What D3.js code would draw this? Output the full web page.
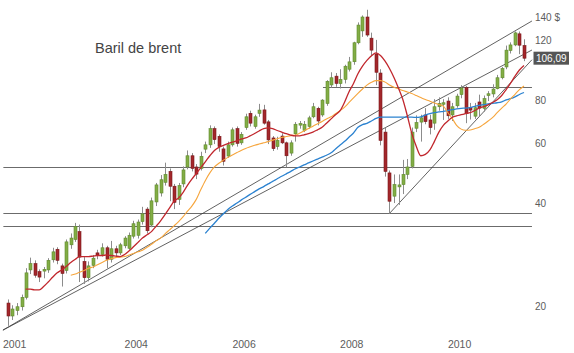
<!DOCTYPE html>
<html>
<head>
<meta charset="utf-8">
<script src="https://cdnjs.cloudflare.com/ajax/libs/d3/7.8.5/d3.min.js"></script>
<style>
  body { margin: 0; background: #fff; }
  svg { display: block; font-family: Arial, "Liberation Sans", sans-serif; }
</style>
</head>
<body>
<div id="chart-area"></div>
<script>
// Monthly candles, the first one is November 2001, the last June 2011
var firstMonth = "2001-11";

var opens = [20.4, 18.7, 19.4, 19.9, 21.2, 25.5, 26.6, 25.2, 25.3, 25.5, 27.3, 29.3, 26.2, 25.4,
  30.2, 31.3, 33.0, 27.0, 24.2, 26.3, 28.6, 28.3, 29.6, 27.4, 29.4, 28.6,
  30.0, 29.5, 32.0, 32.2, 35.3, 38.4, 34.5, 40.3, 42.8, 46.0, 49.5, 44.8,
  41.0, 45.5, 51.0, 55.0, 51.0, 50.5, 57.5, 59.2, 66.0, 62.7, 57.6, 54.9,
  59.2, 66.0, 60.0, 66.5, 73.2, 67.0, 73.2, 74.9, 69.1, 62.0, 58.5, 62.8,
  60.0, 56.0, 63.8, 67.6, 65.2, 67.0, 71.5, 75.7, 72.4, 78.2, 88.6, 94.0,
  89.4, 92.0, 98.5, 103.6, 117.7, 127.5, 140.0, 121.4, 109.1, 96.0, 64.5, 49.0,
  41.9, 44.6, 45.3, 48.5, 51.2, 66.2, 69.0, 72.4, 70.0, 68.5, 76.5, 77.8,
  79.5, 72.4, 77.0, 83.0, 87.0, 76.2, 71.8, 79.0, 75.7, 82.5, 83.4, 86.4,
  93.0, 100.0, 111.7, 116.0, 125.0, 115.5];

var highs = [20.9, 20.1, 20.4, 21.6, 25.8, 27.7, 27.2, 25.6, 26.0, 27.6, 29.6, 29.7, 26.6, 31.3,
  32.6, 35.0, 34.6, 27.8, 27.0, 28.2, 29.2, 30.5, 30.0, 31.0, 30.0, 30.6,
  32.0, 32.8, 35.5, 35.8, 39.0, 38.9, 41.5, 45.8, 48.3, 52.5, 50.5, 45.5,
  45.8, 51.2, 57.0, 56.0, 52.0, 56.5, 60.5, 67.5, 67.0, 63.5, 58.5, 60.5,
  66.5, 67.0, 64.5, 73.0, 74.5, 72.5, 78.0, 77.5, 70.0, 62.8, 62.5, 64.0,
  60.5, 61.0, 69.0, 69.5, 69.5, 72.0, 78.5, 76.5, 80.5, 91.5, 96.5, 96.0,
  98.5, 101.5, 107.0, 118.5, 135.0, 141.5, 147.0, 126.0, 120.0, 98.5, 66.5, 49.8,
  48.5, 48.5, 53.5, 53.8, 66.5, 72.2, 72.5, 75.8, 72.5, 80.5, 81.5, 80.5,
  81.5, 78.5, 83.5, 88.5, 88.0, 78.5, 78.5, 83.0, 82.5, 85.0, 89.0, 94.8,
  100.0, 115.5, 118.0, 127.0, 127.0, 120.5];

var lows = [17.5, 18.2, 18.8, 19.4, 20.9, 24.8, 24.2, 23.5, 24.1, 25.0, 26.8, 26.5, 22.8, 24.9,
  29.4, 30.8, 23.5, 23.2, 23.6, 25.8, 27.4, 27.9, 25.8, 26.8, 27.8, 28.2,
  29.5, 29.2, 31.5, 31.5, 34.6, 32.6, 34.0, 39.2, 41.8, 45.0, 40.5, 38.4,
  39.5, 44.5, 50.2, 49.5, 47.0, 49.8, 56.0, 58.0, 59.5, 56.5, 51.5, 54.2,
  58.5, 58.5, 59.2, 65.5, 67.0, 66.0, 71.5, 67.8, 59.5, 56.8, 57.3, 59.5,
  50.9, 55.0, 60.5, 66.0, 64.5, 66.0, 70.8, 67.5, 71.5, 77.0, 87.0, 87.5,
  86.5, 89.5, 97.0, 101.5, 116.5, 122.5, 122.5, 107.5, 88.5, 59.0, 47.8, 37.2,
  40.0, 39.5, 42.5, 47.0, 50.5, 64.5, 60.5, 68.0, 63.5, 65.5, 74.5, 70.0,
  70.5, 69.5, 76.0, 81.0, 68.5, 70.2, 70.5, 71.5, 74.0, 79.5, 81.5, 86.0,
  92.0, 98.5, 109.5, 115.0, 109.0, 104.0];

var closes = [18.7, 19.6, 19.9, 21.2, 25.0, 26.6, 24.6, 24.3, 25.6, 27.2, 28.8, 27.2, 24.9, 30.8,
  31.6, 34.2, 27.8, 24.2, 26.2, 27.6, 28.2, 29.6, 27.4, 29.4, 28.6, 30.2,
  31.6, 32.2, 34.8, 35.2, 37.2, 33.2, 40.6, 45.2, 46.8, 48.5, 44.8, 40.2,
  45.0, 50.0, 55.0, 50.5, 48.6, 54.8, 59.2, 66.0, 61.3, 58.5, 53.0, 59.2,
  65.5, 59.8, 63.5, 71.5, 68.5, 71.5, 74.8, 68.5, 61.2, 57.7, 61.0, 60.0,
  55.0, 60.0, 68.0, 68.3, 68.0, 71.0, 76.5, 69.5, 80.0, 90.8, 93.0, 89.5,
  92.0, 100.5, 103.5, 117.7, 132.6, 140.0, 124.0, 112.0, 96.5, 61.0, 49.5, 40.5,
  45.3, 45.2, 48.5, 51.0, 64.5, 68.8, 71.0, 69.2, 66.5, 76.5, 78.2, 78.6,
  72.0, 76.5, 82.2, 86.8, 73.0, 74.8, 76.0, 75.8, 80.8, 83.5, 86.2, 93.0,
  99.0, 112.0, 116.0, 125.8, 115.8, 106.09];

// Moving averages, read month by month (each one starts later)
var redStart = "2002-03";
var redMA = [22.4, 22.4, 22.3, 22.3, 22.8, 23.5, 24.3, 25.0, 25.5, 26.1,
  26.8, 27.4, 27.9, 27.9, 27.9, 28.0, 28.1, 28.1, 28.2, 28.1, 28.0, 27.9,
  28.3, 29.0, 29.8, 30.7, 31.6, 32.3, 33.0, 34.2, 35.5, 37.0, 38.7, 40.5,
  41.4, 43.0, 45.0, 47.0, 48.8, 50.8, 52.8, 55.0, 57.0, 58.2, 59.0, 59.7,
  60.3, 60.8, 61.5, 62.0, 62.9, 63.9, 65.0, 66.0, 66.4, 66.0, 65.2, 64.5,
  63.8, 63.2, 62.9, 62.9, 63.3, 63.8, 64.5, 65.5, 66.6, 68.5, 70.5, 72.5,
  74.5, 79.0, 84.5, 89.5, 95.5, 100.5, 104.5, 107.8, 110.0, 108.0, 104.0, 99.0,
  93.0, 86.5, 80.5, 72.0, 64.0, 58.5, 55.0, 55.5, 57.2, 60.5, 64.5, 67.5,
  69.5, 71.3, 72.0, 72.5, 73.0, 73.5, 74.5, 75.8, 76.6, 77.5, 78.8, 80.2,
  82.5, 86.0, 89.5, 94.0, 98.0, 101.0];

var orangeStart = "2003-01";
var orangeMA = [24.6, 24.8, 25.1, 25.4, 25.8, 26.0, 26.4, 26.8, 27.2, 27.5, 27.7, 27.8,
  27.9, 28.2, 28.5, 28.8, 29.1, 29.7, 30.3, 31.0, 31.6, 32.5, 33.4, 34.3,
  35.3, 36.5, 37.8, 39.2, 41.0, 43.8, 46.5, 49.0, 51.0, 52.3, 53.4, 54.4,
  55.3, 56.2, 57.0, 57.8, 58.4, 59.0, 59.5, 60.0, 60.5, 61.1, 61.7, 62.2,
  62.6, 63.0, 63.2, 64.0, 65.0, 66.1, 67.1, 68.2, 69.3, 70.5, 71.5, 73.0,
  74.5, 76.3, 78.6, 81.2, 83.7, 86.2, 88.5, 90.2, 91.2, 91.2, 90.3, 88.6,
  87.2, 86.3, 85.3, 84.5, 83.6, 82.5, 81.4, 80.3, 79.4, 78.5, 77.7, 76.8,
  73.5, 70.5, 67.5, 65.8, 65.3, 65.4, 66.0, 66.6, 68.0, 69.5, 71.2, 73.5,
  75.8, 78.0, 80.6, 83.2, 85.8, 88.0];

var blueStart = "2005-07";
var blueMA = [32.6, 33.8, 34.9, 36.1, 37.2, 38.3, 39.2, 40.0, 40.8, 41.6, 42.4, 43.2,
  44.0, 44.7, 45.5, 46.3, 47.1, 47.9, 48.7, 49.5, 50.3, 51.0, 51.7, 52.4,
  53.1, 53.8, 54.5, 55.2, 56.1, 57.6, 59.1, 60.6, 62.3, 64.1, 66.6, 67.8,
  68.4, 69.5, 70.7, 71.3, 71.3, 71.3, 71.3, 71.3, 71.3, 71.3, 71.3, 71.2,
  71.5, 72.3, 73.0, 73.5, 73.9, 74.2, 74.6, 75.0, 75.4, 75.7, 75.8, 76.1,
  76.7, 77.2, 77.6, 78.0, 78.3, 78.6, 79.1, 80.1, 80.8, 81.8, 83.1, 84.2];

// Horizontal support / resistance levels and where they begin
var levels = [87.2, 50.9, 37.3, 34.3];
var levelStarts = ["2007-09-07", "2001-10-01", "2001-10-01", "2001-10-01"];
var linesEnd = "2011-07-25";

// Trend lines: [start date, start price, end date, end price]
var trendA = ["2001-09-28", 17.0, "2011-07-25", 136.3];
var trendB = ["2001-09-28", 17.0, "2011-07-25", 112.1];
var trendC = ["2008-12-01", 37.3, "2011-07-25", 105.0];

// Axis labels
var yearLabels = ["2001", "2004", "2006", "2008", "2010"];
var priceTicks = [20, 40, 60, 80, 120, 140];
var title = "Baril de brent";


CandleChart = function (_parentElement) {
  this.parentElement = _parentElement;
  this.initVis();
};

CandleChart.prototype.initVis = function () {
  var vis = this;

  vis.width = 574;
  vis.height = 353;

  vis.svg = d3.select(vis.parentElement)
    .append("svg")
    .attr("width", vis.width)
    .attr("height", vis.height);

  vis.parseMonth = d3.timeParse("%Y-%m");
  vis.parseDay = d3.timeParse("%Y-%m-%d");

  /* Scales */
  vis.x = d3.scaleTime()
    .domain([new Date(2001, 0, 1), new Date(2011, 5, 1)])
    .range([-36.9, 524]);

  vis.y = d3.scaleLog()
    .domain([20, 140])
    .range([306, 17]);

  vis.wrangleData();
};

CandleChart.prototype.wrangleData = function () {
  var vis = this;
  var start = vis.parseMonth(firstMonth);

  vis.candles = opens.map(function (o, i) {
    return {
      date: d3.timeMonth.offset(start, i),
      open: o, high: highs[i], low: lows[i], close: closes[i]
    };
  });

  function series(startText, values) {
    var s = vis.parseMonth(startText);
    return values.map((v, i) => ({ date: d3.timeMonth.offset(s, i), value: v }));
  }
  vis.averages = [
    { values: series(blueStart, blueMA), color: "#2b82d0", width: 1.3 },
    { values: series(orangeStart, orangeMA), color: "#f6a53c", width: 1.1 },
    { values: series(redStart, redMA), color: "#c1272d", width: 1.3 }
  ];

  vis.updateVis();
};

CandleChart.prototype.updateVis = function () {
  var vis = this;
  var x = vis.x, y = vis.y;

  /* Horizontal levels */
  vis.svg.append("g")
    .selectAll("line")
    .data(levels).enter()
    .append("line")
    .attr("x1", (d, i) => x(vis.parseDay(levelStarts[i])))
    .attr("x2", x(vis.parseDay(linesEnd)))
    .attr("y1", d => Math.round(y(d)) + 0.5)
    .attr("y2", d => Math.round(y(d)) + 0.5)
    .attr("stroke", "#6b6b6b")
    .attr("stroke-width", 1);

  /* Trend lines */
  vis.svg.append("g")
    .selectAll("line")
    .data([trendA, trendB, trendC]).enter()
    .append("line")
    .attr("x1", d => x(vis.parseDay(d[0])))
    .attr("y1", d => y(d[1]))
    .attr("x2", d => x(vis.parseDay(d[2])))
    .attr("y2", d => y(d[3]))
    .attr("stroke", "#3a3a3a")
    .attr("stroke-width", 0.8);

  /* Candles */
  var candle = vis.svg.append("g")
    .selectAll("g")
    .data(vis.candles).enter()
    .append("g");

  candle.append("line")
    .attr("x1", d => Math.round(x(d.date)) + 0.5)
    .attr("x2", d => Math.round(x(d.date)) + 0.5)
    .attr("y1", d => y(d.high))
    .attr("y2", d => y(d.low))
    .attr("stroke", "#8c8c8c")
    .attr("stroke-width", 1);

  candle.append("rect")
    .attr("x", d => Math.round(x(d.date)) - 1)
    .attr("width", 3)
    .attr("y", d => y(Math.max(d.open, d.close)))
    .attr("height", d => Math.max(1, Math.abs(y(d.open) - y(d.close))))
    .attr("fill", d => d.close >= d.open ? "#82ad45" : "#a3272b")
    .attr("stroke", d => d.close >= d.open ? "#5f8a2c" : "#7a1719")
    .attr("stroke-width", 0.6);

  /* Moving averages */
  vis.line = d3.line()
    .x(d => x(d.date))
    .y(d => y(d.value))
    .curve(d3.curveMonotoneX);

  vis.svg.append("g")
    .selectAll("path")
    .data(vis.averages).enter()
    .append("path")
    .attr("d", d => vis.line(d.values))
    .attr("fill", "none")
    .attr("stroke", d => d.color)
    .attr("stroke-width", d => d.width);

  /* Price axis on the right */
  vis.yAxis = d3.axisRight(y)
    .tickValues(priceTicks)
    .tickSize(0)
    .tickPadding(0)
    .tickFormat(d => d === 140 ? "140 $" : d);

  vis.yAxisGroup = vis.svg.append("g")
    .attr("transform", "translate(535,0)")
    .call(vis.yAxis);
  vis.yAxisGroup.select(".domain").remove();
  vis.yAxisGroup.selectAll("text")
    .attr("fill", "#5c5c5c")
    .attr("font-size", "10px")
    .attr("font-family", "Arial, 'Liberation Sans', sans-serif");

  /* Last price box */
  var last = closes[closes.length - 1];
  var fr = d3.formatLocale({ decimal: ",", thousands: " ", grouping: [3], currency: ["", " $"] });
  vis.svg.append("rect")
    .attr("x", 533.5)
    .attr("y", y(last) - 6.5)
    .attr("width", 35.5)
    .attr("height", 13)
    .attr("fill", "#555555");
  vis.svg.append("text")
    .attr("x", 536)
    .attr("y", y(last) + 3.6)
    .attr("font-size", "10px")
    .attr("fill", "#ffffff")
    .text(fr.format(".2f")(last));

  /* Year axis */
  vis.xAxis = d3.axisBottom(x)
    .tickValues(yearLabels.map(d => new Date(+d, 0, 1)))
    .tickSize(0)
    .tickPadding(0)
    .tickFormat(d3.timeFormat("%Y"));

  vis.xAxisGroup = vis.svg.append("g")
    .attr("transform", "translate(0,340)")
    .call(vis.xAxis);
  vis.xAxisGroup.select(".domain").remove();
  vis.xAxisGroup.selectAll(".tick")
    .attr("transform", d => "translate(" + Math.max(3, x(d)) + ",0)");
  vis.xAxisGroup.selectAll("text")
    .attr("text-anchor", "start")
    .attr("dy", "0.75em")
    .attr("fill", "#5c5c5c")
    .attr("font-size", "10.5px")
    .attr("font-family", "Arial, 'Liberation Sans', sans-serif");

  /* Title */
  vis.svg.append("text")
    .attr("x", 95)
    .attr("y", 52.5)
    .attr("font-size", "14.5px")
    .attr("fill", "#444")
    .text(title);
};

new CandleChart("#chart-area");
</script>
</body>
</html>
